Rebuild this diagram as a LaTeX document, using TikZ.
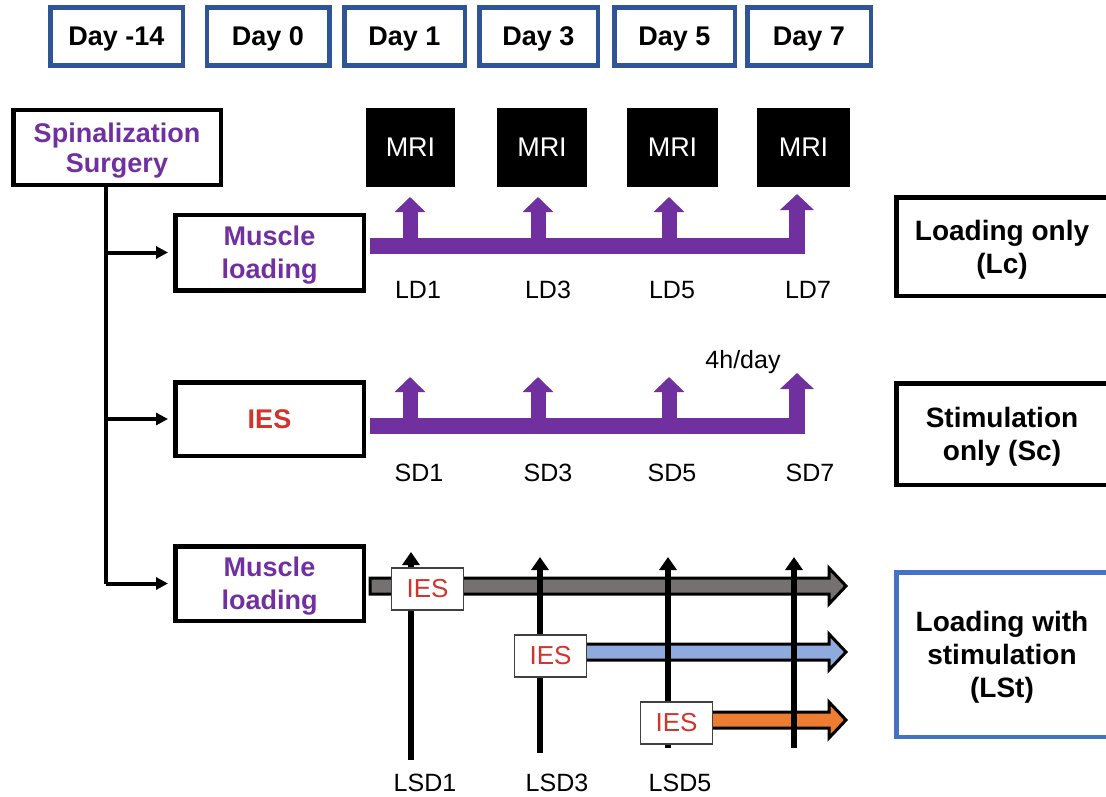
\documentclass[tikz,border=0pt]{standalone}
\usepackage{fontspec}
\setmainfont{Liberation Sans}
\usetikzlibrary{arrows.meta, positioning}
\definecolor{dayblue}{HTML}{2F5597}
\definecolor{lstblue}{HTML}{4472C4}
\definecolor{loadpurple}{HTML}{7030A0}
\definecolor{iesred}{HTML}{D0342C}
\definecolor{bargray}{HTML}{767171}
\definecolor{barblue}{HTML}{8FAADC}
\definecolor{barorange}{HTML}{ED7D31}
\tikzstyle{daybox} = [rectangle, draw=dayblue, line width=4.5pt, minimum height=58pt, inner sep=0pt, text depth=0pt, font=\bfseries\fontsize{27}{33}\selectfont]
\tikzstyle{mribox} = [rectangle, fill=black, minimum height=79pt, inner sep=0pt, text=white, text depth=-5pt, font=\fontsize{27}{33}\selectfont]
\tikzstyle{groupbox} = [rectangle, draw=black, line width=4.5pt, minimum width=188.5pt, inner sep=0pt, align=center, font=\bfseries\fontsize{27}{33}\selectfont]
\tikzstyle{resultbox} = [rectangle, draw=black, line width=4.5pt, minimum width=211.5pt, inner sep=0pt, align=center, text depth=-11pt, font=\bfseries\fontsize{28}{33}\selectfont]
\tikzstyle{lowtext} = [text depth=-9pt]
\tikzstyle{iesbox} = [rectangle, draw=black!75, fill=white, line width=1.2pt, minimum width=72pt, minimum height=42pt, inner sep=0pt, text=iesred, font=\fontsize{26}{30}\selectfont]
\tikzstyle{daylabel} = [inner sep=0pt, font=\fontsize{25}{30}\selectfont]
\tikzstyle{arrow} = [line width=4pt, -{Triangle[length=12pt,width=12pt]}]
\tikzstyle{purplebar} = [draw=loadpurple, line width=16pt, -{Triangle[length=16pt,width=33pt]}]
\tikzstyle{purpleup} = [draw=loadpurple, line width=15pt, -{Triangle[length=15pt,width=30pt]}]
\tikzstyle{dayline} = [line width=6pt, -{Triangle[length=13pt,width=17pt]}]
\tikzstyle{blockarrow} = [draw=black, line width=3pt, line join=miter]

\begin{document}
\begin{tikzpicture}[x=1pt, y=-1pt]
\useasboundingbox (0,0) rectangle (1106,797);

% Day boxes
\node (dm14) [daybox, minimum width=132.5pt] at (116.5,36.5) {Day -14};
\node (d0) [daybox, minimum width=122.5pt] at (268,36.5) {Day 0};
\node (d1) [daybox, minimum width=120.5pt] at (404.5,36.5) {Day 1};
\node (d3) [daybox, minimum width=118.5pt] at (538.5,36.5) {Day 3};
\node (d5) [daybox, minimum width=120.5pt] at (674.5,36.5) {Day 5};
\node (d7) [daybox, minimum width=123.5pt] at (809,36.5) {Day 7};

% MRI boxes
\node (mri1) [mribox, minimum width=89pt] at (410.5,147.5) {MRI};
\node (mri3) [mribox, minimum width=90pt] at (542,147.5) {MRI};
\node (mri5) [mribox, minimum width=91pt] at (672.5,147.5) {MRI};
\node (mri7) [mribox, minimum width=93pt] at (803.5,147.5) {MRI};

% Groups
\node (surgery) [groupbox, lowtext, minimum width=207.5pt, minimum height=74.5pt, text=loadpurple, font=\bfseries\fontsize{27}{30}\selectfont] at (117,147.5) {Spinalization\\Surgery};
\node (load1) [groupbox, lowtext, minimum height=75.5pt, text=loadpurple] at (269.5,252.5) {Muscle\\loading};
\node (ies) [groupbox, minimum height=73.5pt, text=iesred] at (269.5,419) {IES};
\node (load2) [groupbox, lowtext, minimum height=74.5pt, text=loadpurple] at (269.5,583.5) {Muscle\\loading};

\coordinate (trunk) at (106,0);
\draw [line width=4pt] (surgery.south -| trunk) -- (load2.west -| trunk);
\foreach \n in {load1,ies,load2}
  \draw [arrow, shorten >=5pt] (\n.west -| trunk) -- (\n.west);

% Loading only
\draw [purplebar] (370,246) -- (797,246) -- (797,194);
\foreach \x in {410,538,669}
  \draw [purpleup] (\x,246) -- (\x,197);
\foreach \x/\t in {418/LD1,548/LD3,672/LD5,808/LD7}
  \node [daylabel] at (\x,290) {\t};

% Stimulation only
\draw [purplebar] (370,426) -- (797,426) -- (797,373);
\foreach \x in {410,538,669}
  \draw [purpleup] (\x,426) -- (\x,377);
\foreach \x/\t in {419/SD1,548/SD3,672/SD5,810/SD7}
  \node [daylabel] at (\x,473) {\t};
\node (perday) [daylabel] at (743,362) {4h/day};

% Loading with stimulation
\draw [blockarrow, fill=bargray] (370,578) -- (829,578) -- (829,568) -- (846,586) -- (829,604) -- (829,594) -- (370,594) -- cycle;
\draw [blockarrow, fill=barblue] (560,644) -- (829,644) -- (829,634) -- (846,652) -- (829,670) -- (829,660) -- (560,660) -- cycle;
\draw [blockarrow, fill=barorange] (690,712) -- (829,712) -- (829,702) -- (846,720) -- (829,738) -- (829,728) -- (690,728) -- cycle;

\coordinate (lsd1) at (411,760);
\coordinate (lsd3) at (540,753);
\coordinate (lsd5) at (668,748);
\coordinate (lsd7) at (794,748);
\draw [dayline] (lsd1) -- (411,552);
\draw [dayline] (lsd3) -- (540,557);
\draw [dayline] (lsd5) -- (668,557);
\draw [dayline] (lsd7) -- (794,557);

\node (ies1) [iesbox] at (427.5,589) {IES};
\node (ies3) [iesbox] at (550.5,656) {IES};
\node (ies5) [iesbox] at (676.5,723) {IES};

\foreach \x/\t in {425/LSD1,557/LSD3,680/LSD5}
  \node [daylabel] at (\x,783) {\t};

% Outcomes
\node (lc) [resultbox, minimum height=98.5pt] at (1002,246.5) {Loading only\\(Lc)};
\node (sc) [resultbox, minimum height=101.5pt] at (1002,434) {Stimulation\\only (Sc)};
\node (lst) [resultbox, draw=lstblue, minimum height=164.5pt] at (1002,654.5) {Loading with\\stimulation\\(LSt)};

\end{tikzpicture}
\end{document}
